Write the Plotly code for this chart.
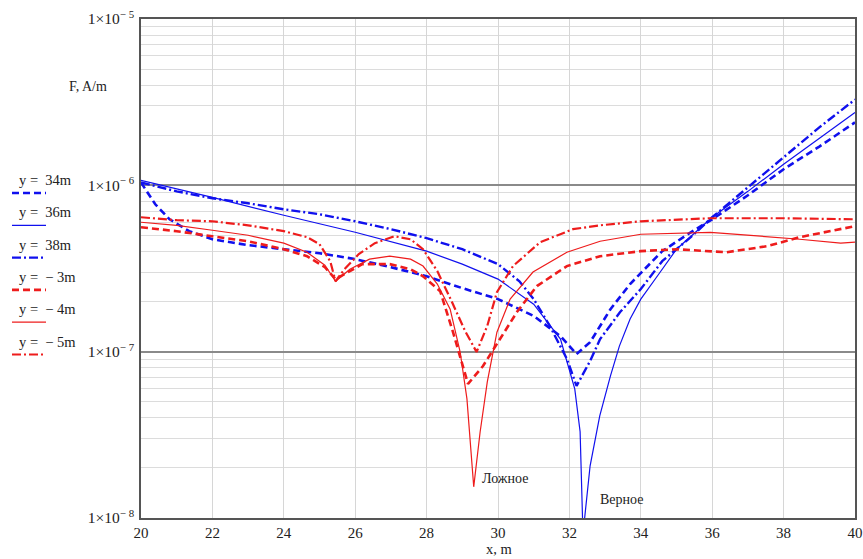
import math
import plotly.graph_objects as go

# ---------------- data ----------------
x_y34 = [20, 20.4, 20.8, 21.35, 22, 23, 24, 25, 26, 27, 28, 29, 30, 31, 31.75, 32.2,
         32.58, 33.15, 33.7, 34.6, 35.4, 36, 37, 38, 39, 40]
f_y34 = [1.04e-6, 7.69e-7, 6.25e-7, 5.30e-7, 4.74e-7, 4.37e-7, 4.13e-7, 3.91e-7, 3.60e-7,
         3.22e-7, 2.84e-7, 2.41e-7, 2.07e-7, 1.64e-7, 1.24e-7, 9.68e-8, 1.14e-7, 1.80e-7,
         2.55e-7, 4.02e-7, 5.22e-7, 6.25e-7, 8.71e-7, 1.25e-6, 1.71e-6, 2.39e-6]

x_y36 = [20, 22, 24, 26, 28, 29, 30, 31, 31.75, 32.15, 32.3, 32.38, 32.58, 32.85, 33.15,
         33.4, 33.7, 34, 34.5, 35, 36, 37, 38, 39, 40]
f_y36 = [1.07e-6, 8.47e-7, 6.61e-7, 5.22e-7, 4.02e-7, 3.36e-7, 2.73e-7, 1.93e-7, 1.19e-7,
         5.97e-8, 3.30e-8, 8.0e-9, 2.06e-8, 4.11e-8, 7.15e-8, 1.08e-7, 1.57e-7, 2.07e-7,
         2.92e-7, 4.13e-7, 6.43e-7, 9.20e-7, 1.34e-6, 1.91e-6, 2.74e-6]

x_y38 = [20, 21, 22, 23, 24, 25, 26, 27, 28, 29, 30, 30.6, 31, 31.45, 31.93, 32.2, 32.58,
         32.86, 33.42, 34, 34.6, 35.4, 36, 37, 38, 39, 40]
f_y38 = [1.04e-6, 9.20e-7, 8.36e-7, 7.80e-7, 7.18e-7, 6.70e-7, 6.08e-7, 5.45e-7, 4.81e-7,
         4.13e-7, 3.36e-7, 2.65e-7, 2.07e-7, 1.43e-7, 9.04e-8, 6.22e-8, 8.79e-8, 1.19e-7,
         1.73e-7, 2.38e-7, 3.50e-7, 4.88e-7, 6.43e-7, 9.73e-7, 1.47e-6, 2.23e-6, 3.28e-6]

x_ym3 = [20, 21, 22, 23, 24, 24.65, 25.15, 25.45, 25.85, 26.2, 26.97, 27.55, 27.9, 28.38,
         28.74, 29.16, 29.58, 30.06, 30.53, 31.09, 31.93, 32.86, 34, 35, 36.4, 37.55, 38.45, 40]
f_ym3 = [5.60e-7, 5.30e-7, 4.94e-7, 4.61e-7, 4.13e-7, 3.75e-7, 3.22e-7, 2.73e-7, 3.05e-7,
         3.36e-7, 3.36e-7, 3.13e-7, 2.84e-7, 2.31e-7, 1.31e-7, 6.40e-8, 8.20e-8, 1.19e-7,
         1.73e-7, 2.48e-7, 3.27e-7, 3.75e-7, 4.02e-7, 4.13e-7, 3.96e-7, 4.31e-7, 4.88e-7, 5.68e-7]

x_ym4 = [20, 21, 22, 23, 24, 24.65, 25.15, 25.45, 25.85, 26.4, 26.97, 27.55, 27.9, 28.3,
         28.66, 28.94, 29.13, 29.32, 29.5, 29.7, 29.97, 30.34, 30.98, 31.93, 32.86, 34,
         35.95, 37.55, 38.45, 39.6, 40]
f_ym4 = [6.00e-7, 5.75e-7, 5.37e-7, 5.01e-7, 4.49e-7, 3.96e-7, 3.31e-7, 2.65e-7, 3.13e-7,
         3.60e-7, 3.75e-7, 3.60e-7, 3.27e-7, 2.55e-7, 1.80e-7, 9.95e-8, 5.20e-8, 1.54e-8,
         3.30e-8, 6.58e-8, 1.31e-7, 2.07e-7, 3.01e-7, 3.96e-7, 4.61e-7, 5.08e-7, 5.22e-7,
         4.94e-7, 4.74e-7, 4.49e-7, 4.55e-7]

x_ym5 = [20, 21, 22, 23, 24, 24.65, 25, 25.3, 25.45, 25.7, 26.1, 26.55, 27.1, 27.55, 27.9,
         28.3, 28.7, 29.08, 29.4, 29.7, 29.97, 30.42, 31.18, 32.1, 32.86, 34, 35.95, 38, 40]
f_ym5 = [6.43e-7, 6.17e-7, 6.08e-7, 5.75e-7, 5.30e-7, 4.88e-7, 4.43e-7, 3.50e-7, 2.65e-7,
         3.13e-7, 3.86e-7, 4.49e-7, 4.94e-7, 4.74e-7, 4.13e-7, 3.05e-7, 2.01e-7, 1.33e-7,
         9.95e-8, 1.43e-7, 2.28e-7, 3.27e-7, 4.55e-7, 5.45e-7, 5.75e-7, 6.08e-7, 6.34e-7,
         6.34e-7, 6.25e-7]

legend_labels = ["y =  34m", "y =  36m", "y =  38m", "y =  − 3m", "y =  − 4m", "y =  − 5m"]
x_ticks = [20, 22, 24, 26, 28, 30, 32, 34, 36, 38, 40]
y_ticks = [1e-8, 1e-7, 1e-6, 1e-5]
y_ticktext = ["1×10<sup>− 8</sup>", "1×10<sup>− 7</sup>", "1×10<sup>− 6</sup>", "1×10<sup>− 5</sup>"]
notes = [("Ложное", 29.5, 1.72e-8), ("Верное", 32.8, 1.30e-8)]

# ---------------- styling ----------------
BLUE = "#1010ee"
RED = "#ee1c1c"
DASH = "7px,4px"
DASHDOT = "9px,3px,2px,3px"
styles = [
    (BLUE, DASH, 2.6), (BLUE, "solid", 1.2), (BLUE, DASHDOT, 2.4),
    (RED, DASH, 2.6), (RED, "solid", 1.2), (RED, DASHDOT, 2.2),
]
series = [(x_y34, f_y34), (x_y36, f_y36), (x_y38, f_y38),
          (x_ym3, f_ym3), (x_ym4, f_ym4), (x_ym5, f_ym5)]

W, H = 863, 559
L, R, T, B = 141, 8, 19, 41
PW, PH = W - L - R, H - T - B


def px(xp):
    return (xp - L) / PW


def py(yp):
    return (H - B - yp) / PH


FONT = "Liberation Serif, Times New Roman, serif"

fig = go.Figure()
for (xs, fs), (c, d, w), name in zip(series, styles, legend_labels):
    fig.add_trace(go.Scatter(x=xs, y=fs, mode="lines", name=name,
                             line=dict(color=c, dash=d, width=w), showlegend=False))

annotations = []
shapes = []
for i, ((c, d, w), lab) in enumerate(zip(styles, legend_labels)):
    ty = 180 + i * 32.3
    annotations.append(dict(x=px(17), y=py(ty), xref="paper", yref="paper", text=lab,
                            showarrow=False, xanchor="left", yanchor="middle",
                            font=dict(family=FONT, size=14.5, color="#222")))
    sy = ty + 13
    shapes.append(dict(type="line", xref="paper", yref="paper", x0=px(12), x1=px(46),
                       y0=py(sy), y1=py(sy), line=dict(color=c, dash=d, width=w)))

for txt, xv, fv in notes:
    annotations.append(dict(x=xv, y=math.log10(fv), xref="x", yref="y", text=txt,
                            showarrow=False, xanchor="left", yanchor="middle",
                            font=dict(family=FONT, size=14, color="#222")))

annotations.append(dict(x=px(88), y=py(86), xref="paper", yref="paper", text="F, A/m",
                        showarrow=False, xanchor="center", yanchor="middle",
                        font=dict(family=FONT, size=14, color="#222")))
annotations.append(dict(x=px(499), y=py(549), xref="paper", yref="paper", text="x, m",
                        showarrow=False, xanchor="center", yanchor="middle",
                        font=dict(family=FONT, size=14.5, color="#222")))

fig.update_layout(
    width=W, height=H,
    margin=dict(l=L, r=R, t=T, b=B, autoexpand=False),
    paper_bgcolor="white", plot_bgcolor="white",
    annotations=annotations, shapes=shapes,
    showlegend=False,
)
fig.update_xaxes(range=[20, 40], tickvals=x_ticks, showgrid=True, gridcolor="#d6d6d6",
                 gridwidth=1, zeroline=False, showline=True, mirror=True, automargin=False,
                 linecolor="#555", linewidth=1.6, ticks="",
                 tickfont=dict(family=FONT, size=15, color="#222"))
fig.update_yaxes(type="log", range=[-8, -5], tickvals=y_ticks, ticktext=y_ticktext,
                 showgrid=True, gridcolor="#8a8a8a", gridwidth=1.6, zeroline=False,
                 showline=True, mirror=True, linecolor="#555", linewidth=1.6, ticks="",
                 ticklabelstandoff=2, automargin=False,
                 minor=dict(dtick="D1", showgrid=True, gridcolor="#dcdcdc", gridwidth=1,
                            ticks=""),
                 tickfont=dict(family=FONT, size=15.5, color="#222"))

fig.write_html("out.html", config={"displayModeBar": False},
               post_script="document.body.style.margin='0';document.body.style.overflow='hidden';")
